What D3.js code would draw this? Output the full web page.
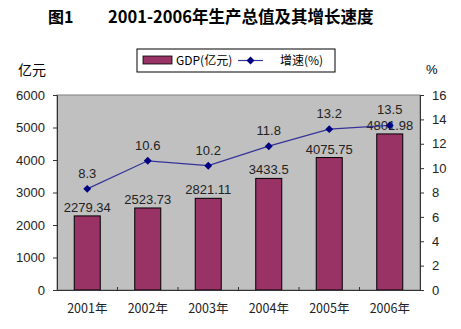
<!DOCTYPE html>
<html><head><meta charset="utf-8">
<script src="https://cdn.jsdelivr.net/npm/d3@7"></script>
<style>body{margin:0;background:#fff}</style>
</head><body>
<svg id="c" width="461" height="329"></svg>
<script>
const categories = ["2001年","2002年","2003年","2004年","2005年","2006年"];
const gdp = [2279.34, 2523.73, 2821.11, 3433.5, 4075.75, 4801.98];
const growth = [8.3, 10.6, 10.2, 11.8, 13.2, 13.5];
const leftTicks = [0,1000,2000,3000,4000,5000,6000];
const rightTicks = [0,2,4,6,8,10,12,14,16];

const svg = d3.select("#c");
const L=57, R=420, T=95, B=290;
const numFont = "Liberation Sans, Arial, sans-serif";
const cjk = "'Noto Sans CJK SC', sans-serif";

const x = d3.scaleBand().domain(categories).range([L,R]).paddingInner(0.57).paddingOuter(0.285);
const xb = d3.scaleBand().domain(categories).range([L,R]);
const y = d3.scaleLinear().domain([0,6000]).range([B,T]);
const y2 = d3.scaleLinear().domain([0,16]).range([B,T]);

// title
svg.append("text").attr("x",48).attr("y",23).attr("font-family",cjk).attr("font-weight","bold").attr("font-size",16).text("图1");
svg.append("text").attr("x",108).attr("y",23).attr("font-family",cjk).attr("font-weight","bold").attr("font-size",16.5).text("2001-2006年生产总值及其增长速度");

// plot bg
svg.append("rect").attr("x",L).attr("y",T).attr("width",R-L).attr("height",B-T).attr("fill","#c0c0c0").attr("stroke","#808080").attr("stroke-width",1);

// bars
svg.selectAll(".bar").data(gdp).join("rect")
  .attr("x",(d,i)=>x(categories[i])).attr("y",d=>y(d))
  .attr("width",x.bandwidth()).attr("height",d=>B-y(d))
  .attr("fill","#993366").attr("stroke","#000").attr("stroke-width",1);

// axes
const gl = svg.append("g").attr("transform",`translate(${L},0)`)
  .call(d3.axisLeft(y).tickValues(leftTicks).tickSize(4).tickPadding(8).tickFormat(d3.format("d")));
const gr = svg.append("g").attr("transform",`translate(${R},0)`)
  .call(d3.axisRight(y2).tickValues(rightTicks).tickSize(4).tickPadding(8).tickFormat(d3.format("d")));
const gx = svg.append("g").attr("transform",`translate(0,${B})`)
  .call(d3.axisBottom(xb).tickSize(0).tickPadding(14));
[gl,gr,gx].forEach(g=>{
  g.selectAll("text").attr("font-family",numFont).attr("font-size",13).attr("fill","#222");
  g.selectAll("path,line").attr("stroke","#333");
  g.select(".domain").attr("stroke","#333");
});
gx.selectAll("text").attr("font-family",cjk).attr("font-size",12.5);
// category boundary ticks
svg.selectAll(".xt").data(categories.slice(1)).join("line")
  .attr("x1",d=>xb(d)).attr("x2",d=>xb(d)).attr("y1",B).attr("y2",B-3).attr("stroke","#333");

// bar labels
svg.selectAll(".bl").data(gdp).join("text")
  .attr("x",(d,i)=>x(categories[i])+x.bandwidth()/2).attr("y",d=>y(d)-4)
  .attr("text-anchor","middle").attr("font-family",numFont).attr("font-size",13).attr("fill","#222")
  .text(d=>d);

// line
const cx = (i)=>xb(categories[i])+xb.bandwidth()/2;
svg.append("path").datum(growth)
  .attr("d",d3.line().x((d,i)=>cx(i)).y(d=>y2(d)))
  .attr("fill","none").attr("stroke","#333399").attr("stroke-width",1.2);
svg.selectAll(".mk").data(growth).join("path")
  .attr("transform",(d,i)=>`translate(${cx(i)},${y2(d)})`)
  .attr("d",d3.symbol(d3.symbolDiamond2,40)).attr("fill","#000080");
svg.selectAll(".pl").data(growth).join("text")
  .attr("x",(d,i)=>cx(i)).attr("y",d=>y2(d)-11)
  .attr("text-anchor","middle").attr("font-family",numFont).attr("font-size",13).attr("fill","#222")
  .text(d=>d);

// axis titles
svg.append("text").attr("x",18).attr("y",75).attr("font-family",cjk).attr("font-size",14).text("亿元");
svg.append("text").attr("x",426).attr("y",74).attr("font-family",numFont).attr("font-size",13).text("%");

// legend
const lg = svg.append("g");
lg.append("rect").attr("x",137).attr("y",49).attr("width",198).attr("height",23).attr("fill","#fff").attr("stroke","#000");
lg.append("rect").attr("x",143).attr("y",56).attr("width",29).attr("height",8).attr("fill","#993366").attr("stroke","#000").attr("stroke-width",0.8);
lg.append("text").attr("x",176).attr("y",65).attr("font-family",cjk).attr("font-size",12).text("GDP(亿元)");
lg.append("line").attr("x1",238).attr("x2",263).attr("y1",60.5).attr("y2",60.5).attr("stroke","#333399").attr("stroke-width",1.2);
lg.append("path").attr("transform","translate(250.5,60.5)").attr("d",d3.symbol(d3.symbolDiamond2,40)).attr("fill","#000080");
lg.append("text").attr("x",280).attr("y",65).attr("font-family",cjk).attr("font-size",12).text("增速(%)");
</script>
</body></html>
